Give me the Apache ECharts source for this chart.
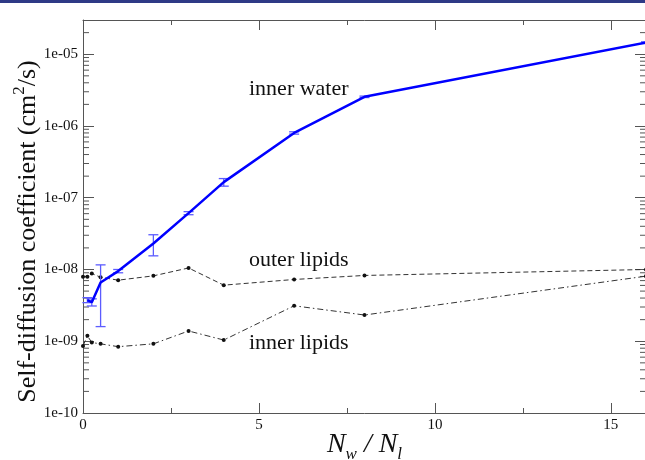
<!DOCTYPE html>
<html>
<head>
<meta charset="utf-8">
<script src="https://cdn.jsdelivr.net/npm/echarts@6/dist/echarts.min.js"></script>
<style>
  html, body { margin: 0; padding: 0; background: #fff; }
  #chart { width: 645px; height: 460px; }
</style>
</head>
<body>
<div id="chart"></div>
<script>
// Water-to-lipid ratio N_w / N_l for the water runs
const waterRatio = [0.125, 0.25, 0.5, 1, 2, 3, 4, 6, 8, 16];
// Self-diffusion coefficient of the inner water (cm^2/s) and its error
const innerWater    = [3.75e-9, 3.5e-9, 6.6e-9, 9.5e-9, 2.3e-8, 6.1e-8, 1.65e-7, 8.0e-7, 2.55e-6, 1.45e-5];
const innerWaterErr = [3e-10, 4e-10, 5e-9, 5e-10, 7.5e-9, 3e-9, 2e-8, 3e-8, 6e-8, 4e-7];

// Water-to-lipid ratio for the lipid runs (includes the dry system)
const lipidRatio  = [0, 0.125, 0.25, 0.5, 1, 2, 3, 4, 6, 8, 16];
const outerLipids = [7.9e-9, 7.9e-9, 8.8e-9, 7.8e-9, 7.1e-9, 8.15e-9, 1.05e-8, 6.05e-9, 7.26e-9, 8.26e-9, 1.0e-8];
const innerLipids = [8.6e-10, 1.19e-9, 9.6e-10, 9.2e-10, 8.4e-10, 9.2e-10, 1.39e-9, 1.04e-9, 3.12e-9, 2.32e-9, 8.07e-9];

// Axis ranges and tick labels
const xMin = 0, xMax = 16, xStep = 5;
const yMin = 1e-10, yMax = 3e-5;
const yTickLabels = ['1e-10', '1e-09', '1e-08', '1e-07', '1e-06', '1e-05'];
const minorMultipliers = [2, 3, 4, 5, 6, 7, 8, 9];

// Logarithmic minor tick positions (2..9 within each decade)
const minorTickValues = [];
for (let e = -10; e <= -5; e++) {
  for (const m of minorMultipliers) {
    const v = m * Math.pow(10, e);
    if (v < yMax) minorTickValues.push(v);
  }
}

const FONT = 'Liberation Serif';
const AXIS_COLOR = '#555';

const chart = echarts.init(document.getElementById('chart'), null, { renderer: 'canvas' });

const xAxisBase = {
  type: 'value', min: xMin, max: xMax, interval: xStep,
  axisLine: { show: true, onZero: false, lineStyle: { color: AXIS_COLOR, width: 1 } },
  axisTick: { show: true, inside: true, length: 10, lineStyle: { color: AXIS_COLOR } },
  minorTick: { show: true, splitNumber: 2, length: 5, lineStyle: { color: AXIS_COLOR } },
  splitLine: { show: false }
};
const yAxisBase = {
  type: 'log', logBase: 10, min: yMin, max: yMax,
  axisLine: { show: true, onZero: false, lineStyle: { color: AXIS_COLOR, width: 1 } },
  axisTick: { show: true, inside: true, length: 11, lineStyle: { color: AXIS_COLOR } },
  minorTick: { show: false },
  splitLine: { show: false }
};

chart.setOption({
  animation: false,
  backgroundColor: '#fff',
  grid: { left: 83, top: 20, right: -1, bottom: 47, containLabel: false, outerBoundsMode: 'none' },
  xAxis: [
    Object.assign({}, xAxisBase, {
      position: 'bottom',
      name: '{n|N}{s|w}{n| / N}{s|l}',
      nameLocation: 'middle',
      nameGap: 18,
      nameMoveOverlap: false,
      nameTextStyle: {
        rich: {
          n: { fontFamily: FONT, fontStyle: 'italic', fontSize: 28, color: '#111', lineHeight: 28, verticalAlign: 'top' },
          s: { fontFamily: FONT, fontStyle: 'italic', fontSize: 17, color: '#111', lineHeight: 17, verticalAlign: 'top', padding: [15, 0, 0, 0] }
        }
      },
      axisLabel: {
        show: true, margin: 5, showMaxLabel: false,
        fontFamily: FONT, fontSize: 15, color: '#111'
      }
    }),
    Object.assign({}, xAxisBase, {
      position: 'top',
      axisLabel: { show: false }
    })
  ],
  yAxis: [
    Object.assign({}, yAxisBase, {
      position: 'left',
      name: '{a|Self-diffusion coefficient (cm}{p|2}{a|/s)}',
      nameLocation: 'middle',
      nameGap: 42,
      nameMoveOverlap: false,
      nameTextStyle: {
        padding: [0, 30, 0, 0],
        rich: {
          a: { fontFamily: FONT, fontSize: 26, color: '#111', lineHeight: 30, verticalAlign: 'bottom' },
          p: { fontFamily: FONT, fontSize: 17, color: '#111', lineHeight: 17, verticalAlign: 'top' }
        }
      },
      axisLabel: {
        show: true, margin: 5, showMaxLabel: false,
        fontFamily: FONT, fontSize: 15, color: '#111',
        formatter: v => {
          const k = Math.round(Math.log10(v)) + 10;
          return yTickLabels[k] !== undefined ? yTickLabels[k] : '';
        }
      }
    }),
    Object.assign({}, yAxisBase, {
      position: 'right',
      axisLabel: { show: false }
    })
  ],
  graphic: [
    { type: 'rect', shape: { x: 0, y: 0, width: 645, height: 3 }, style: { fill: '#2e3a86' }, silent: true },
    { type: 'text', style: { x: 249, y: 89, text: 'inner water', font: '22px "Liberation Serif"', fill: '#111', verticalAlign: 'middle' }, silent: true },
    { type: 'text', style: { x: 249, y: 260, text: 'outer lipids', font: '22px "Liberation Serif"', fill: '#111', verticalAlign: 'middle' }, silent: true },
    { type: 'text', style: { x: 249, y: 343, text: 'inner lipids', font: '22px "Liberation Serif"', fill: '#111', verticalAlign: 'middle' }, silent: true }
  ],
  series: [
    {
      // logarithmic minor ticks on the left and right frame edges
      type: 'custom', xAxisIndex: 0, yAxisIndex: 0, silent: true, clip: false,
      data: minorTickValues.map(v => [xMin, v]),
      encode: { x: 0, y: 1 },
      renderItem: (params, api) => {
        const v = api.value(1);
        const l = api.coord([xMin, v]);
        const r = api.coord([xMax, v]);
        return {
          type: 'group',
          children: [
            { type: 'line', shape: { x1: l[0], y1: l[1], x2: l[0] + 6, y2: l[1] }, style: { stroke: AXIS_COLOR, lineWidth: 1 } },
            { type: 'line', shape: { x1: r[0], y1: r[1], x2: r[0] - 6, y2: r[1] }, style: { stroke: AXIS_COLOR, lineWidth: 1 } }
          ]
        };
      },
      z: 1
    },
    {
      name: 'outer lipids', type: 'line',
      data: lipidRatio.map((x, i) => [x, outerLipids[i]]),
      symbol: 'circle', symbolSize: 4, showSymbol: true,
      itemStyle: { color: '#111' },
      lineStyle: { color: '#333', width: 1, type: [5, 3] },
      z: 2
    },
    {
      name: 'inner lipids', type: 'line',
      data: lipidRatio.map((x, i) => [x, innerLipids[i]]),
      symbol: 'circle', symbolSize: 4, showSymbol: true,
      itemStyle: { color: '#111' },
      lineStyle: { color: '#333', width: 1, type: [6, 3, 1.5, 3] },
      z: 2
    },
    {
      // error bars of the inner water
      type: 'custom', silent: true,
      data: waterRatio.map((x, i) => [x, innerWater[i] - innerWaterErr[i], innerWater[i] + innerWaterErr[i]]),
      encode: { x: 0, y: [1, 2] },
      renderItem: (params, api) => {
        const x = api.value(0);
        const lo = api.coord([x, api.value(1)]);
        const hi = api.coord([x, api.value(2)]);
        const hw = 5;
        const st = { stroke: '#5c5cff', lineWidth: 1.3 };
        return {
          type: 'group',
          children: [
            { type: 'line', shape: { x1: lo[0], y1: lo[1], x2: hi[0], y2: hi[1] }, style: st },
            { type: 'line', shape: { x1: lo[0] - hw, y1: lo[1], x2: lo[0] + hw, y2: lo[1] }, style: st },
            { type: 'line', shape: { x1: hi[0] - hw, y1: hi[1], x2: hi[0] + hw, y2: hi[1] }, style: st }
          ]
        };
      },
      z: 3
    },
    {
      name: 'inner water', type: 'line',
      data: waterRatio.map((x, i) => [x, innerWater[i]]),
      showSymbol: false, symbol: 'none',
      lineStyle: { color: '#0000ff', width: 2.5 },
      z: 4
    }
  ]
});
</script>
</body>
</html>
